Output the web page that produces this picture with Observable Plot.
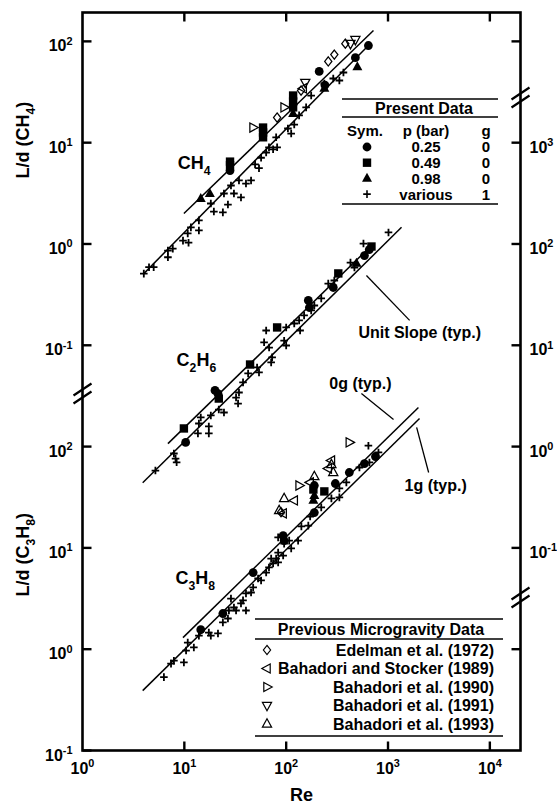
<!DOCTYPE html>
<html><head><meta charset="utf-8">
<script src="https://cdn.jsdelivr.net/npm/d3@7"></script>
<script src="https://cdn.jsdelivr.net/npm/@observablehq/plot@0.6"></script>
<style>
html,body{margin:0;padding:0;background:#fff;}
#chart{width:557px;height:812px;overflow:hidden;}
</style></head><body><div id="chart"></div>
<script>
// ---------------- DATA (Re, L/d) ----------------
const reTicks = [1, 10, 100, 1000, 10000];
const reTickLabels = ["10^0", "10^1", "10^2", "10^3", "10^4"];
const ldTicks = [0.1, 1, 10, 100];
const ldTickLabels = ["10^-1", "10^0", "10^1", "10^2"];
const c2h6Ticks = [0.1, 1, 10, 100, 1000];
const c2h6TickLabels = ["10^-1", "10^0", "10^1", "10^2", "10^3"];

// stacked-panel offsets (decades) for each fuel
const offsetCH4 = 1e4;
const offsetC2H6 = 1e2;
const offsetC3H8 = 1;

// CH4
const ch4_g1 = [[4.0,0.51],[4.5,0.59],[5.0,0.59],[6.9,0.74],[6.9,0.86],[7.7,0.90],[9.7,1.08],[10.8,1.27],[11.0,1.03],[11.6,1.46],[13.9,1.36],[13.9,1.71],[18.2,2.51],[19.5,2.09],[23.9,2.05],[26.8,2.45],[24.5,3.15],[28.7,3.78],[30.7,3.15],[36.0,2.88],[34.4,4.24],[40.3,3.95],[45.2,4.24],[49.5,6.1],[54.1,5.6],[56.7,7.1],[63.6,8.0],[67.8,9.0],[74.4,8.6],[81.5,9.0],[79.7,11.3],[104,13.8],[112,12.3],[120,15.1],[134,18.6],[157,22.3],[176,29.2],[237,38.4],[290,43.0],[333,41.1],[365,49.3]];
const ch4_p025 = [[28.1,5.3],[211,50.5],[240,37],[478,69],[642,91]];
const ch4_p049 = [[28.1,6.5],[28.1,6.0],[59.3,14.1],[59.3,12.6],[59.3,11.3],[117,29.2],[117,25.5],[117,22.3]];
const ch4_p098 = [[14.5,2.8],[17.8,3.15],[117,19.4],[237,34.3],[500,56]];
const ch4_edelman = [[81.5,17.7],[140,32.7],[259,63.4],[297,74],[381,95]];
const ch4_bs1989 = [[147,34.3]];
const ch4_b1990 = [[47.3,14.1],[95.5,22.3]];
const ch4_b1991 = [[154,39.3],[428,95],[478,104]];

// C2H6
const c2h6_g1 = [[5.2,0.58],[7.9,0.855],[8.2,0.76],[8.4,0.70],[13.9,1.69],[13.6,1.35],[17.4,1.58],[17.4,1.35],[14.5,1.94],[18.2,2.03],[24.5,2.17],[21.8,2.32],[32.2,3.05],[33.7,2.66],[34.4,3.42],[37.7,4.30],[42.3,5.27],[51.8,6.04],[54.1,5.39],[71.2,6.77],[60.7,10.7],[68,9.5],[72.8,7.6],[95.5,11.1],[100,9.95],[63.6,14.0],[100,15.0],[120,16.4],[134,17.6],[137,14.0],[150,19.7],[176,22.1],[189,24.7],[221,29.0],[259,40.7],[297,43.6],[428,65.6],[468,58.6],[574,101],[1011,130]];
const c2h6_p025 = [[10.3,1.10],[21.4,3.34],[20.0,3.58],[165,27.7],[169,23.6],[290,37.2],[587,76.9],[655,88]];
const c2h6_p049 = [[9.9,1.51],[21.8,2.98],[44.2,6.46],[81.5,15.0],[325,51.2],[688,94.4]];
const c2h6_p098 = [[490,64.3]];

// C3H8
const c3h8_g1 = [[6.3,0.53],[7.4,0.72],[7.9,0.77],[9.9,0.74],[10.4,0.97],[10.8,1.16],[12.4,1.04],[13.9,1.36],[17.4,1.46],[18.2,1.36],[21.4,1.43],[23.9,1.84],[26.8,2.01],[27.4,2.41],[28.7,3.16],[30.7,2.58],[32.2,2.41],[40.3,2.41],[36.0,2.83],[40.3,3.55],[45.2,3.63],[47.4,4.07],[53,4.99],[56.7,4.77],[63.6,5.71],[67.8,6.41],[74.4,7.02],[83.4,7.18],[112,9.87],[131,11.8],[107,11.8],[83.4,9.0],[79.7,7.85],[71.2,7.85],[93.4,8.4],[95.5,11.0],[83.4,12.7],[37.7,3.03],[141,16.3],[165,16.6],[172,20.4],[221,25.1],[278,30.8],[333,38.6],[333,31.5],[390,44.3],[524,62.2],[642,102],[806,87.5],[657,69.7]];
const c3h8_p025 = [[417,55.5],[587,68],[753,79.8],[304,43.2],[189,41.3],[189,22.3],[93.4,13.2],[95.5,11.8],[47.4,5.71],[23.9,2.25],[14.5,1.56]];
const c3h8_p049 = [[237,36.1],[185,37.7]];
const c3h8_p098 = [[185,29.4],[189,32.9]];
const c3h8_edelman = [[89,22.5]];
const c3h8_bs1989 = [[278,73],[259,60.8],[172,44.3],[120,29.4],[93.4,21.9]];
const c3h8_b1990 = [[417,110],[134,41.3]];
const c3h8_b1993 = [[290,55.5],[278,66.5],[189,50.7],[95.5,30.8],[85.3,23.4]];

// unit-slope correlation lines (end points)
const lineCH4_0g = [[9.9,2.0],[720,128]];
const lineCH4_1g = [[4.0,0.51],[614,87]];
const lineC2H6_0g = [[6.9,1.07],[720,101]];
const lineC2H6_1g = [[3.9,0.44],[1358,146]];
const lineC3H8_0g = [[9.7,1.30],[1990,243]];
const lineC3H8_1g = [[3.9,0.39],[2040,189]];

// labels and annotations
const gasNames = ["CH_4", "C_2H_6", "C_3H_8"];
const gasLabelRe = [8.6, 8.4, 8.2];
const gasLabelLd = [6.2 * offsetCH4, 7.1 * offsetC2H6, 5.0 * offsetC3H8];
const noteTexts = ["Unit Slope (typ.)", "0g (typ.)", "1g (typ.)"];
const noteRe = [512, 265, 1455];
const noteLd = [13.4 * offsetC2H6, 420 * offsetC3H8, 41.3 * offsetC3H8];
const leaderFrom = [[614, 48.9 * offsetC2H6], [548, 334], [1910, 155]];
const leaderTo = [[1630, 17.6 * offsetC2H6], [1133, 185], [2506, 55.5]];
const breaksLeft = [334];
const breaksRight = [2.79e5, 3.24];
const rightExtraTicks = [1e6, 1];
const axisTitles = ["L/d (CH_4)", "L/d (C_3H_8)"];
const axisTitleY = [4.44e4, 3.31];

const presentHeader = ["Sym.", "p (bar)", "g"];
const presentP = ["0.25", "0.49", "0.98", "various"];
const presentG = ["0", "0", "0", "1"];
const previousLabels = ["Edelman et al. (1972)", "Bahadori and Stocker (1989)", "Bahadori et al. (1990)", "Bahadori et al. (1991)", "Bahadori et al. (1993)"];

// ---------------- SYMBOLS ----------------
const poly = pts => ({draw(ctx) { ctx.moveTo(pts[0][0], pts[0][1]); for (let i = 1; i < pts.length; i++) ctx.lineTo(pts[i][0], pts[i][1]); ctx.closePath(); }});
const SYM = {
  circle: {draw(ctx) { ctx.moveTo(4.4, 0); ctx.arc(0, 0, 4.4, 0, 2 * Math.PI); }},
  square: poly([[-4.2,-4.2],[4.2,-4.2],[4.2,4.2],[-4.2,4.2]]),
  triUp: poly([[0,-5.6],[5,3.4],[-5,3.4]]),
  triDown: poly([[0,5.2],[4.6,-3.2],[-4.6,-3.2]]),
  triLeft: poly([[-5.2,0],[3.2,-4.6],[3.2,4.6]]),
  triRight: poly([[5.2,0],[-3.2,-4.6],[-3.2,4.6]]),
  triUpOpen: poly([[0,-5.2],[4.6,3.2],[-4.6,3.2]]),
  diamond: poly([[0,-4.6],[3.6,0],[0,4.6],[-3.6,0]]),
  plus: {draw(ctx) { ctx.moveTo(-3.8,0); ctx.lineTo(3.8,0); ctx.moveTo(0,-3.8); ctx.lineTo(0,3.8); }}
};
const tickSym = (dx, dy) => ({draw(ctx) { ctx.moveTo(0, 0); ctx.lineTo(dx, dy); }});
const breakSym = {draw(ctx) { ctx.moveTo(-9, 2); ctx.lineTo(9, -10); ctx.moveTo(-9, 10); ctx.lineTo(9, -2); }};

const rows = (arr, f) => arr.map(([re, ld]) => ({re, yv: ld * f}));
const segs = (arr, f) => [{x1: arr[0][0], y1: arr[0][1] * f, x2: arr[1][0], y2: arr[1][1] * f}];

const plusData = [...rows(ch4_g1, offsetCH4), ...rows(c2h6_g1, offsetC2H6), ...rows(c3h8_g1, offsetC3H8)];
const p025 = [...rows(ch4_p025, offsetCH4), ...rows(c2h6_p025, offsetC2H6), ...rows(c3h8_p025, offsetC3H8)];
const p049 = [...rows(ch4_p049, offsetCH4), ...rows(c2h6_p049, offsetC2H6), ...rows(c3h8_p049, offsetC3H8)];
const p098 = [...rows(ch4_p098, offsetCH4), ...rows(c2h6_p098, offsetC2H6), ...rows(c3h8_p098, offsetC3H8)];
const edel = [...rows(ch4_edelman, offsetCH4), ...rows(c3h8_edelman, offsetC3H8)];
const bs89 = [...rows(ch4_bs1989, offsetCH4), ...rows(c3h8_bs1989, offsetC3H8)];
const b90 = [...rows(ch4_b1990, offsetCH4), ...rows(c3h8_b1990, offsetC3H8)];
const b91 = [...rows(ch4_b1991, offsetCH4)];
const b93 = [...rows(c3h8_b1993, offsetC3H8)];
const lineSegs = [...segs(lineCH4_0g, offsetCH4), ...segs(lineCH4_1g, offsetCH4), ...segs(lineC2H6_0g, offsetC2H6), ...segs(lineC2H6_1g, offsetC2H6), ...segs(lineC3H8_0g, offsetC3H8), ...segs(lineC3H8_1g, offsetC3H8)];

const leftTickRows = [...ldTicks.map((v, i) => ({v: v * offsetCH4, t: ldTickLabels[i]})), ...ldTicks.map((v, i) => ({v: v * offsetC3H8, t: ldTickLabels[i]}))];
const rightTickRows = c2h6Ticks.map((v, i) => ({v: v * offsetC2H6, t: c2h6TickLabels[i]}));

const fontStack = "'Liberation Sans', Arial, Helvetica, sans-serif";
const openStyle = {fill: "none", stroke: "black", strokeWidth: 1.25};

const plot = Plot.plot({
  width: 557, height: 812,
  marginLeft: 82, marginRight: 37, marginTop: 12, marginBottom: 62,
  x: {type: "log", domain: [1, 2e4], axis: null},
  y: {type: "log", domain: [0.1, Math.pow(10, 6.285)], axis: null},
  style: {fontFamily: fontStack, fontWeight: "bold", background: "white", overflow: "visible"},
  marks: [
    Plot.link(lineSegs, {x1: "x1", y1: "y1", x2: "x2", y2: "y2", stroke: "black", strokeWidth: 1.5}),
    Plot.link(leaderFrom.map((a, i) => ({a, b: leaderTo[i]})), {x1: d => d.a[0], y1: d => d.a[1], x2: d => d.b[0], y2: d => d.b[1], stroke: "black", strokeWidth: 1.3}),
    Plot.dot(plusData, {x: "re", y: "yv", symbol: SYM.plus, fill: "none", stroke: "black", strokeWidth: 1.8}),
    Plot.dot(p025, {x: "re", y: "yv", symbol: SYM.circle, fill: "black", stroke: "none"}),
    Plot.dot(p049, {x: "re", y: "yv", symbol: SYM.square, fill: "black", stroke: "none"}),
    Plot.dot(p098, {x: "re", y: "yv", symbol: SYM.triUp, fill: "black", stroke: "none"}),
    Plot.dot(edel, {x: "re", y: "yv", symbol: SYM.diamond, ...openStyle}),
    Plot.dot(bs89, {x: "re", y: "yv", symbol: SYM.triLeft, ...openStyle}),
    Plot.dot(b90, {x: "re", y: "yv", symbol: SYM.triRight, ...openStyle}),
    Plot.dot(b91, {x: "re", y: "yv", symbol: SYM.triDown, ...openStyle}),
    Plot.dot(b93, {x: "re", y: "yv", symbol: SYM.triUpOpen, ...openStyle}),
    // frame and inward ticks
    Plot.frame({stroke: "black", strokeWidth: 2.6}),
    Plot.dot(reTicks.slice(1), {x: d => d, frameAnchor: "bottom", symbol: tickSym(0, -9), stroke: "black", strokeWidth: 2.4}),
    Plot.dot(reTicks.slice(1), {x: d => d, frameAnchor: "top", symbol: tickSym(0, 9), stroke: "black", strokeWidth: 2.4}),
    Plot.dot(leftTickRows, {y: "v", frameAnchor: "left", symbol: tickSym(9, 0), stroke: "black", strokeWidth: 2.4}),
    Plot.dot([...rightTickRows.map(d => d.v), ...rightExtraTicks], {y: d => d, frameAnchor: "right", symbol: tickSym(-9, 0), stroke: "black", strokeWidth: 2.4}),
    Plot.dot(breaksLeft, {y: d => d, frameAnchor: "left", symbol: breakSym, stroke: "black", strokeWidth: 2.2}),
    Plot.dot(breaksRight, {y: d => d, frameAnchor: "right", symbol: breakSym, stroke: "black", strokeWidth: 2.2}),
    // tick labels
    Plot.text(reTicks.map((v, i) => ({v, t: reTickLabels[i]})), {x: "v", text: "t", frameAnchor: "bottom", dy: 23, fontSize: 16, fontWeight: "bold"}),
    Plot.text(leftTickRows, {y: "v", text: "t", frameAnchor: "left", dx: -10, dy: 5, textAnchor: "end", fontSize: 16, fontWeight: "bold"}),
    Plot.text(rightTickRows, {y: "v", text: "t", frameAnchor: "right", dx: 9, dy: 5, textAnchor: "start", fontSize: 16, fontWeight: "bold"}),
    // axis titles
    Plot.text(axisTitles, {text: d => d, y: (d, i) => axisTitleY[i], frameAnchor: "left", dx: -59, rotate: -90, fontSize: 18, fontWeight: "bold"}),
    Plot.text(["Re"], {text: d => d, frameAnchor: "bottom", dy: 50, fontSize: 18, fontWeight: "bold"}),
    // annotations
    Plot.text(gasNames, {text: d => d, x: (d, i) => gasLabelRe[i], y: (d, i) => gasLabelLd[i], textAnchor: "start", fontSize: 18, fontWeight: "bold"}),
    Plot.text(noteTexts, {text: d => d, x: (d, i) => noteRe[i], y: (d, i) => noteLd[i], textAnchor: "start", fontSize: 16, fontWeight: "bold"})
  ]
});

document.getElementById("chart").appendChild(plot);
const svg = plot;
const svgNS = "http://www.w3.org/2000/svg";

// ---------- legends ----------
const L = d3.select(svg).append("g").attr("font-family", fontStack).attr("font-weight", "bold").attr("fill", "black");
function hline(x1, x2, y) { L.append("line").attr("x1", x1).attr("x2", x2).attr("y1", y).attr("y2", y).attr("stroke", "black").attr("stroke-width", 1.6); }
function txt(x, y, s, size, anchor) { L.append("text").attr("x", x).attr("y", y).attr("dy", "0.36em").attr("font-size", size).attr("text-anchor", anchor).text(s); }
function sym(x, y, type, mode) {
  L.append("path").attr("d", d3.symbol(type)()).attr("transform", `translate(${x},${y})`)
    .attr("fill", mode === "fill" ? "black" : "none").attr("stroke", mode === "fill" ? "none" : "black")
    .attr("stroke-width", mode === "plus" ? 1.6 : 1.2);
}
// Present Data
hline(342, 498, 99); hline(342, 498, 117); hline(342, 498, 204);
txt(424, 108, "Present Data", 16, "middle");
txt(365, 131, presentHeader[0], 15, "middle");
txt(426, 131, presentHeader[1], 15, "middle");
txt(486, 131, presentHeader[2], 15, "middle");
const presentSyms = [[SYM.circle, "fill"], [SYM.square, "fill"], [SYM.triUp, "fill"], [SYM.plus, "plus"]];
presentP.forEach((p, i) => {
  const y = 147 + i * 15.7;
  sym(367, y, presentSyms[i][0], presentSyms[i][1]);
  txt(426, y, p, 15, "middle");
  txt(486, y, presentG[i], 15, "middle");
});
// Previous Microgravity Data
hline(255, 503, 619); hline(255, 503, 639); hline(255, 503, 736);
txt(381, 629, "Previous Microgravity Data", 16, "middle");
const prevSyms = [SYM.diamond, SYM.triLeft, SYM.triRight, SYM.triDown, SYM.triUpOpen];
previousLabels.forEach((s, i) => {
  const y = 650 + i * 18.5;
  sym(267, y, prevSyms[i], "open");
  txt(494, y, s, 16, "end");
});

// ---------- sub/superscripts ----------
function richify(t) {
  const s = t.textContent;
  if (!/[\^_]/.test(s)) return;
  const fs = parseFloat(getComputedStyle(t).fontSize) || 16;
  const parts = [];
  let i = 0, buf = "";
  while (i < s.length) {
    const c = s[i];
    if (c === "^" || c === "_") {
      if (buf) parts.push({txt: buf, mode: 0});
      buf = "";
      let j = i + 1, tok = "";
      if (s[j] === "-") { tok += "-"; j++; }
      while (j < s.length && /\d/.test(s[j])) { tok += s[j]; j++; }
      parts.push({txt: tok, mode: c === "^" ? 1 : -1});
      i = j;
    } else { buf += c; i++; }
  }
  if (buf) parts.push({txt: buf, mode: 0});
  t.textContent = "";
  let cur = 0;
  for (const p of parts) {
    const ts = document.createElementNS(svgNS, "tspan");
    const target = p.mode === 1 ? -0.42 * fs : p.mode === -1 ? 0.3 * fs : 0;
    ts.setAttribute("dy", (target - cur).toFixed(2));
    cur = target;
    if (p.mode) ts.setAttribute("font-size", (fs * 0.68).toFixed(1));
    ts.textContent = p.txt;
    t.appendChild(ts);
  }
}
svg.querySelectorAll("text").forEach(richify);
</script></body></html>
